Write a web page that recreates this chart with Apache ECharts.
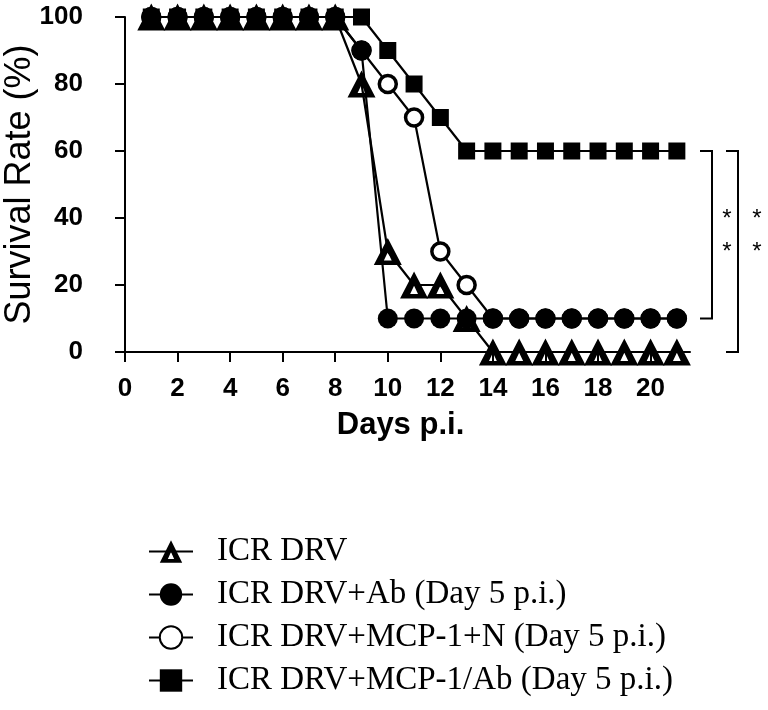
<!DOCTYPE html>
<html><head><meta charset="utf-8">
<script src="https://cdn.jsdelivr.net/npm/echarts@6/dist/echarts.min.js"></script>
<style>html,body{margin:0;padding:0;background:#fff}#c{width:768px;height:710px}</style>
</head><body><div id="c"></div>
<script>
// ---- data ----
const days = [1,2,3,4,5,6,7,8,9,10,11,12,13,14,15,16,17,18,19,20,21];
const icrDrv      = [100,100,100,100,100,100,100,100,80,30,20,20,10,0,0,0,0,0,0,0,0];
const icrDrvAb    = [100,100,100,100,100,100,100,100,90,10,10,10,10,10,10,10,10,10,10,10,10];
const icrDrvMcpN  = [100,100,100,100,100,100,100,100,90,80,70,30,20,10,10,10,10,10,10,10,10];
const icrDrvMcpAb = [100,100,100,100,100,100,100,100,100,90,80,70,60,60,60,60,60,60,60,60,60];
const seriesNames = ['ICR DRV','ICR DRV+Ab (Day 5 p.i.)','ICR DRV+MCP-1+N (Day 5 p.i.)','ICR DRV+MCP-1/Ab (Day 5 p.i.)'];
const xTicks = [0,2,4,6,8,10,12,14,16,18,20];
const bracketTop = [60,60];
const bracketBottom = [10,0];
const bracketLabel = ['*\n*','*\n*'];

const pairs = arr => days.map((d,i)=>[d, arr[i]]);
const tickFont = {fontFamily:'"Liberation Sans",Arial,sans-serif', fontWeight:'bold', fontSize:26, color:'#000'};
const lineStyle = {color:'#000', width:2.2};
// heavy open triangle: black triangle with a small hole
const openTriangle = 'path://M0,20L10,0L20,20Z M10,10.5L7.2,16.6L12.8,16.6Z';

function lineSeries(name, arr, symbol, size, itemStyle){
  return {type:'line', name, data:pairs(arr), symbol, symbolSize:size, lineStyle,
    itemStyle, emphasis:{disabled:true}, silent:true};
}

const chart = echarts.init(document.getElementById('c'), null, {renderer:'canvas'});
chart.setOption({
  animation:false,
  backgroundColor:'#fff',
  grid:{left:125, right:78, top:17, bottom:358, containLabel:false, outerBoundsMode:'none'},
  xAxis:{type:'value', min:0, max:21.5,
    name:'Days p.i.', nameLocation:'middle', nameGap:58, nameMoveOverlap:false,
    nameTextStyle:{fontFamily:'"Liberation Sans",Arial,sans-serif', fontWeight:'bold', fontSize:31, color:'#000', lineHeight:31, verticalAlign:'top', padding:[0,14,0,0]},
    axisLine:{show:true, onZero:false, lineStyle:{color:'#000', width:2}},
    axisTick:{show:true, customValues:xTicks, length:10, lineStyle:{color:'#000', width:2}},
    axisLabel:Object.assign({customValues:xTicks, margin:24}, tickFont),
    splitLine:{show:false}},
  yAxis:{type:'value', min:0, max:100, interval:20,
    name:'Survival Rate (%)', nameLocation:'middle', nameGap:87, nameRotate:90, nameMoveOverlap:false,
    nameTextStyle:{fontFamily:'"Liberation Sans",Arial,sans-serif', fontSize:36, color:'#000'},
    axisLine:{show:true, lineStyle:{color:'#000', width:2}},
    axisTick:{show:true, length:10, lineStyle:{color:'#000', width:2}},
    axisLabel:Object.assign({margin:42}, tickFont),
    splitLine:{show:false}},
  legend:{data:seriesNames, orient:'vertical', left:143, top:530, height:190, itemWidth:44, itemHeight:28, itemGap:10,
    selectedMode:false,
    textStyle:{fontFamily:'"Liberation Serif","Times New Roman",serif', fontSize:33, color:'#000', lineHeight:28, padding:[0,0,0,19]}},
  series:[
    lineSeries(seriesNames[3], icrDrvMcpAb, 'rect', 17, {color:'#000'}),
    lineSeries(seriesNames[2], icrDrvMcpN, 'circle', 17, {color:'#fff', borderColor:'#000', borderWidth:3.5}),
    lineSeries(seriesNames[1], icrDrvAb, 'circle', 20, {color:'#000'}),
    lineSeries(seriesNames[0], icrDrv, openTriangle, [28,27], {color:'#000', borderWidth:0}),
    {type:'custom', name:'significance', coordinateSystem:'cartesian2d', clip:false, silent:true,
      data: bracketTop.map((t,i)=>[i, t, bracketBottom[i]]),
      encode:{x:0, y:[1,2]},
      renderItem:(params, api)=>{
        const i = params.dataIndex;
        const cs = params.coordSys;
        const xr = cs.x + cs.width;
        const top = api.coord([0, api.value(1)])[1];
        const bot = api.coord([0, api.value(2)])[1];
        const mid = api.coord([0, (bracketTop[0]+bracketBottom[0])/2])[1];
        const bx = xr + 22 + i*26;
        return {type:'group', children:[
          {type:'polyline', shape:{points:[[bx-12,top],[bx,top],[bx,bot],[bx-12,bot]]}, style:{stroke:'#000', lineWidth:2, fill:null}},
          {type:'text', style:{text:bracketLabel[i], x:bx+15+i*4, y:mid+1, align:'center', verticalAlign:'middle',
            fontFamily:'"Liberation Sans",Arial,sans-serif', fontSize:24, lineHeight:33, fill:'#000'}}
        ]};
      }}
  ]
});
</script>
</body></html>
